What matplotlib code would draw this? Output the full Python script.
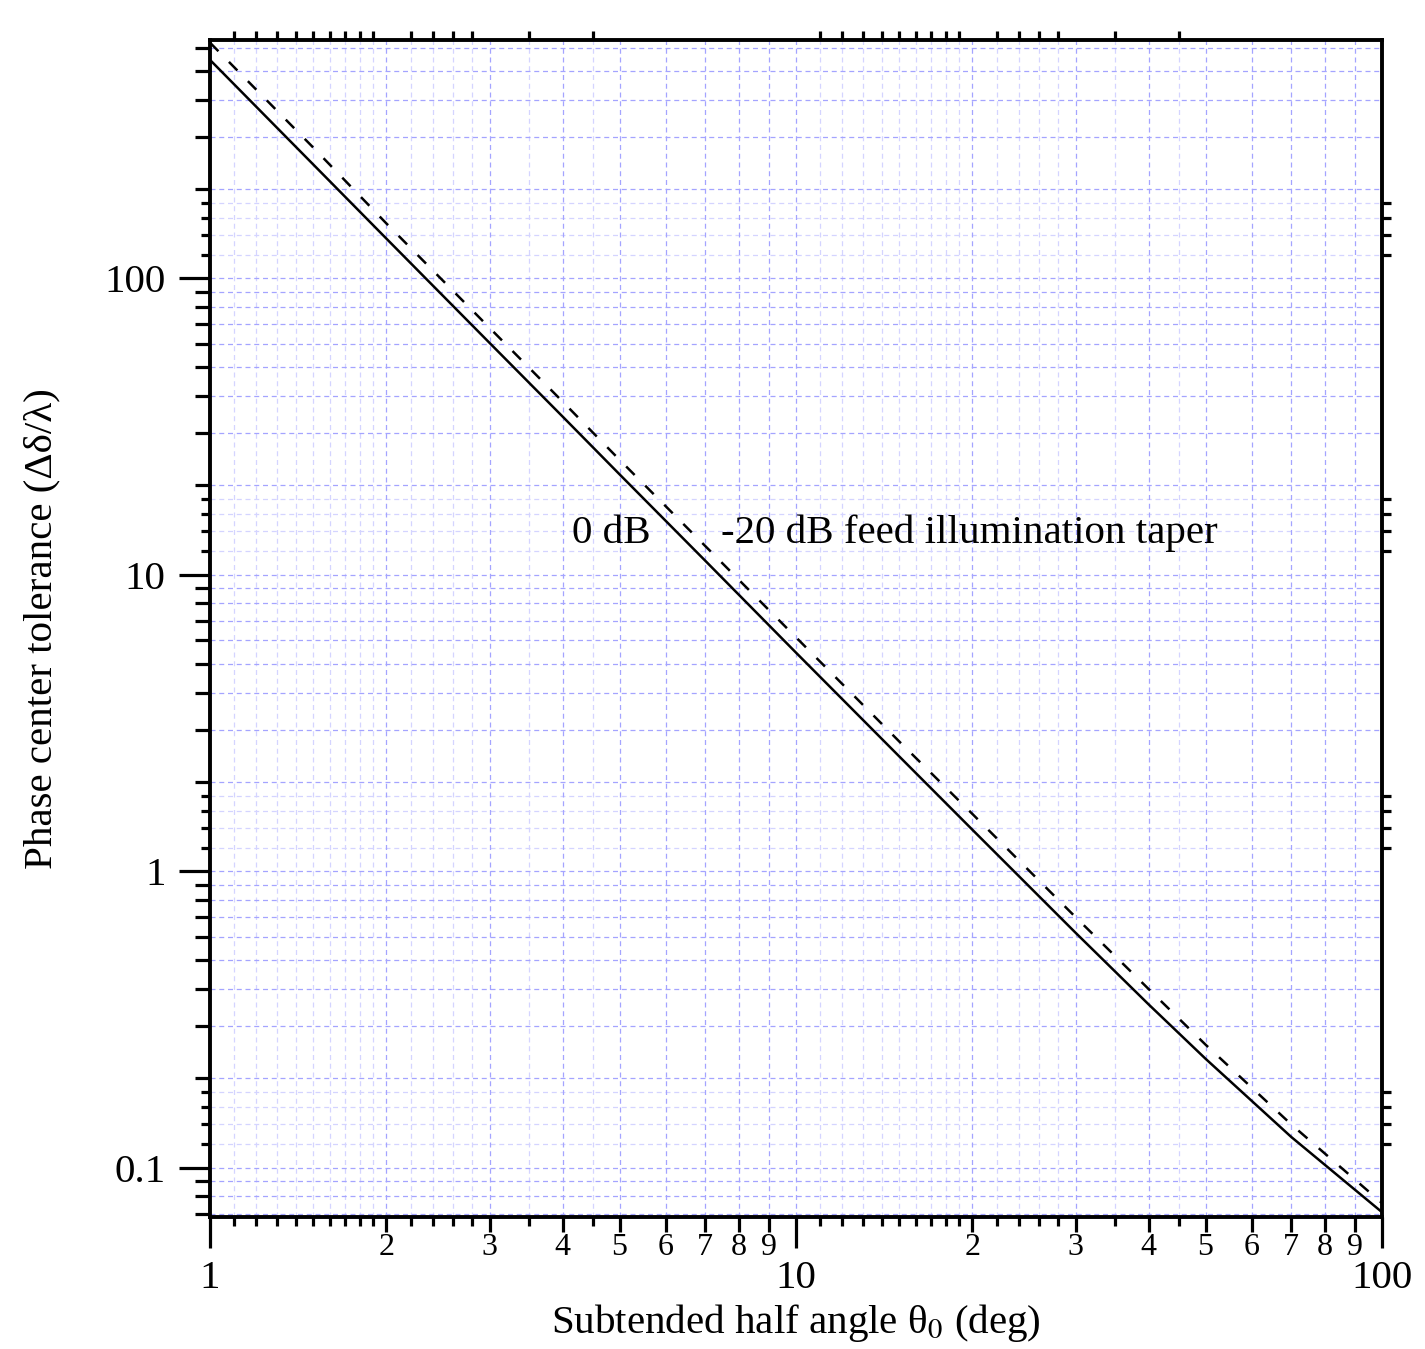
import numpy as np
import matplotlib
matplotlib.use('Agg')
import matplotlib.pyplot as plt
from matplotlib.ticker import FixedLocator, NullLocator, NullFormatter, FuncFormatter, LogLocator

plt.rcParams['font.family'] = ['Liberation Serif', 'DejaVu Serif']
plt.rcParams['mathtext.fontset'] = 'stix'

# values (log-log)
theta = [1, 1.5, 2, 3, 4, 5, 7, 10, 15, 20, 30, 40, 50, 70, 100]
tol_0db = [545, 242, 136, 60.5, 34.1, 21.8, 11.15, 5.46, 2.44, 1.38, 0.62, 0.355, 0.233, 0.127, 0.0708]
tol_20db = [623, 276, 153, 68, 38.3, 24.4, 12.5, 6.15, 2.74, 1.56, 0.70, 0.40, 0.26, 0.140, 0.0760]

# small ticks between the 2..9 ones
x_short = [1.1, 1.2, 1.3, 1.4, 1.5, 1.6, 1.7, 1.8, 1.9, 2.2, 2.4, 2.6, 2.8, 3.5, 4.5,
           11, 12, 13, 14, 15, 16, 17, 18, 19, 22, 24, 26, 28, 35, 45]
y_short = [0.12, 0.14, 0.16, 0.18, 1.2, 1.4, 1.6, 1.8, 12, 14, 16, 18, 120, 140, 160, 180]

xlim = (1, 100)
ylim = (0.0682, 636)

grid_col = '#a4a4ff'
faint_col = '#d4d4ff'
grid_ls = (0, (4, 3))
fs = 29.5

fig = plt.figure(figsize=(14.25, 13.49), dpi=100)
ax = fig.add_axes([210/1425, 1 - 1217/1349, 1172/1425, 1177/1349])

ax.plot(theta, tol_0db, color='black', lw=1.8)
ax.plot(theta, tol_20db, color='black', lw=1.8, ls=(0, (4.8, 6.0)))
ax.set_xscale('log')
ax.set_yscale('log')
ax.set_xlim(xlim)
ax.set_ylim(ylim)

ax.xaxis.set_major_locator(LogLocator(base=10))
ax.yaxis.set_major_locator(LogLocator(base=10))
ax.xaxis.set_minor_locator(LogLocator(base=10, subs=np.arange(2, 10)))
ax.yaxis.set_minor_locator(LogLocator(base=10, subs=np.arange(2, 10)))
ax.xaxis.set_major_formatter(FuncFormatter(lambda v, p: f'{v:g}'))
ax.yaxis.set_major_formatter(FuncFormatter(lambda v, p: f'{v:g}'))
ax.xaxis.set_minor_formatter(FuncFormatter(
    lambda v, p: str(int(round(v / 10 ** np.floor(np.log10(v) + 1e-9))))))
ax.yaxis.set_minor_formatter(NullFormatter())

ax.tick_params(which='both', direction='out', top=True, right=True,
               labeltop=False, labelright=False, width=2.3, color='black')
ax.tick_params(which='major', length=22)
ax.tick_params(which='minor', length=11)
ax.tick_params(axis='x', which='major', labelsize=fs, pad=9)
ax.tick_params(axis='x', which='minor', labelsize=23, pad=0.5)
ax.tick_params(axis='y', which='major', labelsize=fs, pad=10)

ax.grid(which='both', color=grid_col, ls=grid_ls, lw=0.9)
for s in ax.spines.values():
    s.set_linewidth(2.8)

# third level of ticks on twin axes, drawn under the main one
axx = ax.twiny()
axx.set_xscale('log')
axx.set_xlim(xlim)
axx.xaxis.set_major_locator(FixedLocator(x_short))
axx.xaxis.set_minor_locator(NullLocator())
axx.tick_params(axis='x', which='major', direction='out', top=True, bottom=True,
                labeltop=False, labelbottom=False, length=6.5, width=2.3)
axx.grid(axis='x', color=faint_col, ls=grid_ls, lw=0.9)

ayy = ax.twinx()
ayy.set_yscale('log')
ayy.set_ylim(ylim)
ayy.yaxis.set_major_locator(FixedLocator(y_short))
ayy.yaxis.set_minor_locator(NullLocator())
ayy.tick_params(axis='y', which='major', direction='out', left=True, right=True,
                labelleft=False, labelright=False, length=6.5, width=2.3)
ayy.grid(axis='y', color=faint_col, ls=grid_ls, lw=0.9)

for t in (axx, ayy):
    t.set_zorder(1)
    for s in t.spines.values():
        s.set_visible(False)
ax.set_zorder(2)
ax.patch.set_visible(False)

ax.text(4.14, 13.8, '0 dB', fontsize=fs, va='center', ha='left')
ax.text(7.46, 13.8, '-20 dB feed illumination taper', fontsize=fs, va='center', ha='left')

ax.set_xlabel('Subtended half angle θ$_0$ (deg)', fontsize=fs)
ax.xaxis.set_label_coords(0.5, -0.072)
ax.set_ylabel('Phase center tolerance (Δδ/λ)', fontsize=fs)
ax.yaxis.set_label_coords(-0.128, 0.5)

fig.savefig('out.png', dpi=100)
